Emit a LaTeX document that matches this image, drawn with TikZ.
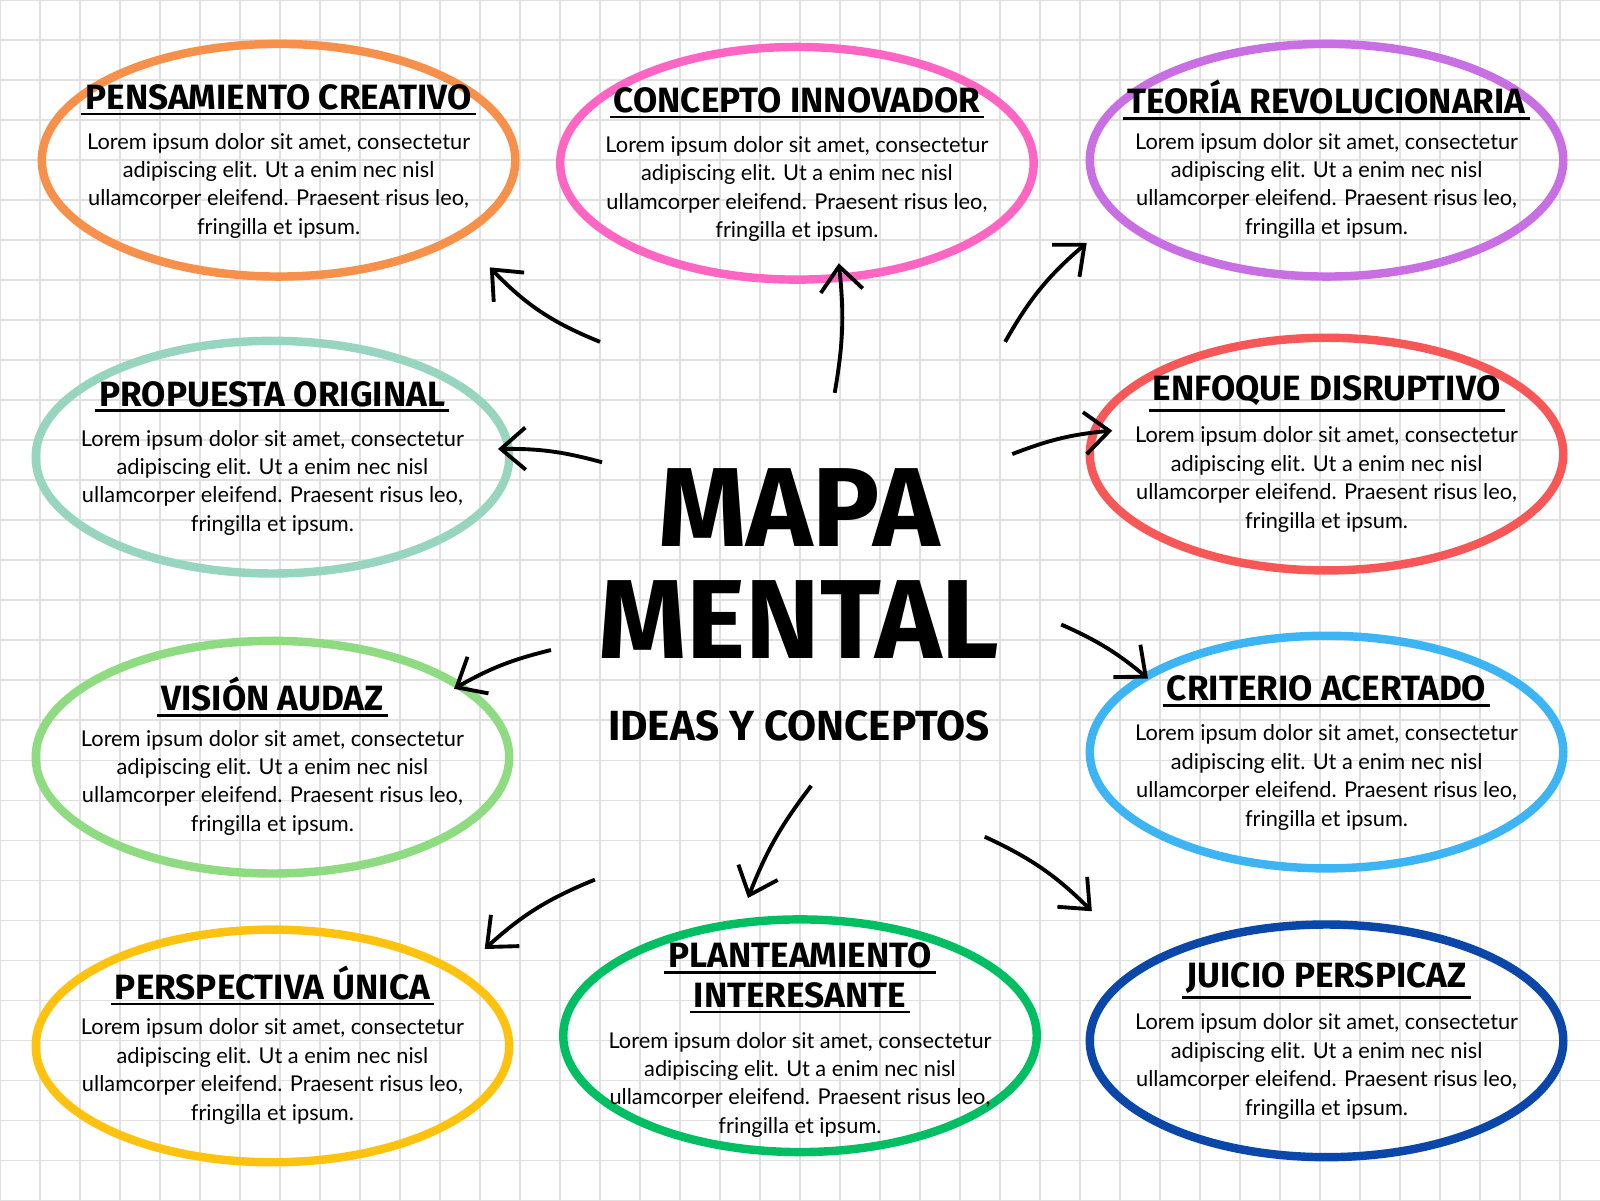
\documentclass[tikz,border=0pt]{standalone}
\usepackage{fontspec}
\setmainfont{Lato}
\newfontfamily\ttl{Fira Sans}
\usetikzlibrary{arrows.meta}
\definecolor{cOr}{HTML}{F7904A}
\definecolor{cPk}{HTML}{FF66C4}
\definecolor{cPu}{HTML}{C86FE3}
\definecolor{cMi}{HTML}{98D5BE}
\definecolor{cRe}{HTML}{F75757}
\definecolor{cLg}{HTML}{8FDB82}
\definecolor{cSk}{HTML}{3DB5F5}
\definecolor{cYe}{HTML}{FFC20E}
\definecolor{cGr}{HTML}{00BF63}
\definecolor{cDb}{HTML}{0A47A8}
\begin{document}
\begin{tikzpicture}[x=0.010204cm,y=-0.010204cm,
  oval/.style={draw=#1,line width=2.4pt},
  ttlS/.style={font=\ttl\bfseries\fontsize{10}{12}\selectfont,inner sep=1pt},
  body/.style={font=\fontsize{6.2}{8.1}\selectfont,align=center,inner sep=0pt},
  arr/.style={line width=1.1pt,-{Straight Barb[length=7pt,width=12pt]}}]
\useasboundingbox (0,0) rectangle (1568,1176);
\fill[white] (0,0) rectangle (1568,1176);
\foreach \i in {0,...,40} {\draw[black!12,line width=0.3pt] (\i*39.2,0) -- (\i*39.2,1176);}
\foreach \j in {0,...,30} {\draw[black!12,line width=0.3pt] (0,\j*39.2) -- (1568,\j*39.2);}
\def\lorem{Lorem ipsum dolor sit amet, consectetur\\adipiscing elit. Ut a enim nec nisl\\ullamcorper eleifend. Praesent risus leo,\\fringilla et ipsum.}
\newcommand\bub[5]{%
  \draw[oval=#4] (#1,#2) ellipse [x radius=232,y radius=114];
  \node[ttlS] (t#5) at (#1,#2-62) {#3};
  \draw[line width=0.8pt] (t#5.south west) -- (t#5.south east);
  \node[body] (b#5) at (#1,#2+25) {\lorem};
  \coordinate (e#5) at (#1,#2);}
\bub{273}{157}{PENSAMIENTO CREATIVO}{cOr}{1}
\bub{781}{160}{CONCEPTO INNOVADOR}{cPk}{2}
\bub{1300}{157}{TEORÍA REVOLUCIONARIA}{cPu}{3}
\bub{267}{448}{PROPUESTA ORIGINAL}{cMi}{4}
\bub{1300}{445}{ENFOQUE DISRUPTIVO}{cRe}{5}
\bub{267}{742}{VISIÓN AUDAZ}{cLg}{6}
\bub{1300}{737}{CRITERIO ACERTADO}{cSk}{7}
\bub{267}{1025}{PERSPECTIVA ÚNICA}{cYe}{8}
\bub{1300}{1020}{JUICIO PERSPICAZ}{cDb}{10}
\draw[oval=cGr] (784,1015) ellipse [x radius=232,y radius=114];
\node[ttlS,align=center] (t9a) at (784,936) {PLANTEAMIENTO};
\node[ttlS] (t9b) at (784,975) {INTERESANTE};
\draw[line width=0.8pt] (t9a.south west) -- (t9a.south east);
\draw[line width=0.8pt] (t9b.south west) -- (t9b.south east);
\node[body] (b9) at (784,1063) {\lorem};
\node[font=\ttl\bfseries\fontsize{32}{34}\selectfont,inner sep=0pt] (m1) at (783,497) {MAPA};
\node[font=\ttl\bfseries\fontsize{32}{34}\selectfont,inner sep=0pt] (m2) at (783,607) {MENTAL};
\node[font=\ttl\bfseries\fontsize{12}{14}\selectfont] (m3) at (783,711) {IDEAS Y CONCEPTOS};
\coordinate (a1) at (588,335); \coordinate (z1) at (480,262);
\coordinate (a2) at (818,385); \coordinate (z2) at (822,258);
\coordinate (a3) at (985,335); \coordinate (z3) at (1065,238);
\coordinate (a4) at (590,453); \coordinate (z4) at (488,440);
\coordinate (a5) at (992,445); \coordinate (z5) at (1090,422);
\coordinate (a6) at (540,637); \coordinate (z6) at (445,675);
\coordinate (a7) at (1040,612); \coordinate (z7) at (1125,665);
\coordinate (a8) at (795,770); \coordinate (z8) at (733,880);
\coordinate (a9) at (583,862); \coordinate (z9) at (475,930);
\coordinate (a10) at (965,820); \coordinate (z10) at (1070,893);
\draw[arr] (a1) to[bend left=12] (z1);
\draw[arr] (a2) to[bend right=8] (z2);
\draw[arr] (a3) to[bend left=10] (z3);
\draw[arr] (a4) to[bend right=8] (z4);
\draw[arr] (a5) to[bend left=8] (z5);
\draw[arr] (a6) to[bend right=8] (z6);
\draw[arr] (a7) to[bend left=8] (z7);
\draw[arr] (a8) to[bend right=8] (z8);
\draw[arr] (a9) to[bend right=10] (z9);
\draw[arr] (a10) to[bend left=10] (z10);
\end{tikzpicture}
\end{document}
